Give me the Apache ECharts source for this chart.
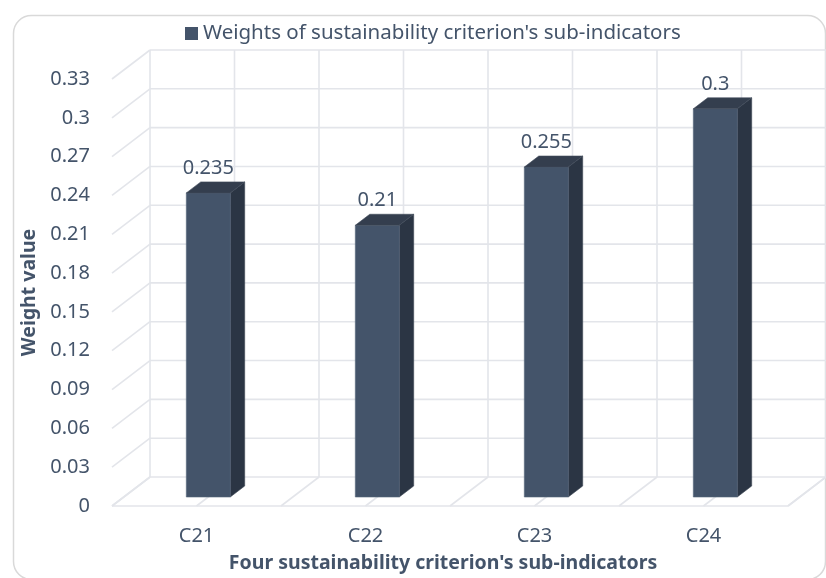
<!DOCTYPE html>
<html>
<head>
<meta charset="utf-8">
<style>
  html, body { margin: 0; padding: 0; background: #ffffff; }
  #chart { width: 826px; height: 578px; }
</style>
<script src="https://cdn.jsdelivr.net/npm/echarts@6/dist/echarts.min.js"></script>
</head>
<body>
<div id="chart"></div>
<script>
// Sub-indicator weights of the sustainability criterion
const categories = ['C21', 'C22', 'C23', 'C24'];
const weights = [0.235, 0.21, 0.255, 0.3];
const yTicks = [0, 0.03, 0.06, 0.09, 0.12, 0.15, 0.18, 0.21, 0.24, 0.27, 0.3, 0.33];

const seriesName = "Weights of sustainability criterion's sub-indicators";
const TEXT = '#44546A';
const GRID_LINE = '#e3e5ea';
const FONT = 'Noto Sans';

// Oblique depth of the 3D box (pixels, front plane -> back wall)
const DX = 38, DY = -29;
// Depth band occupied by the columns (fraction of the box depth)
const D0 = 0.31, D1 = 0.69;
const BAR_FRACTION = 0.26;

const chart = echarts.init(document.getElementById('chart'));

function line(x1, y1, x2, y2) {
  return {
    type: 'line',
    shape: { x1, y1, x2, y2 },
    style: { stroke: GRID_LINE, lineWidth: 1.6 }
  };
}

// Back wall horizontal gridlines + left wall diagonals, one per value tick
function renderWallTick(params, api) {
  const cs = params.coordSys;
  const v = api.value(0);
  const y = api.coord([0, v])[1];
  const children = [
    line(cs.x + DX, y + DY, cs.x + cs.width + DX, y + DY),
    line(cs.x, y, cs.x + DX, y + DY)
  ];
  if (v === 0) {
    // floor front edge and right floor edge
    children.push(line(cs.x, y, cs.x + cs.width, y));
    children.push(line(cs.x + cs.width, y, cs.x + cs.width + DX, y + DY));
  }
  return { type: 'group', children };
}

// Back wall vertical gridlines and floor diagonals at category boundaries and centres
function renderWallCategory(params, api) {
  const i = api.value(0);
  const w = api.size([1, 0])[0];
  const c = api.coord([i, 0]);
  const yTop = api.coord([i, yTicks[yTicks.length - 1]])[1];
  const y0 = c[1];
  const xs = [c[0] - w / 2, c[0]];
  if (i === categories.length - 1) xs.push(c[0] + w / 2);
  const children = [];
  xs.forEach(x => {
    children.push(line(x + DX, y0 + DY, x + DX, yTop + DY));
    children.push(line(x + DX, y0 + DY, x, y0));
  });
  return { type: 'group', children };
}

// 3D column: front face, side face, top face and value label
function renderColumn(params, api) {
  const i = api.value(0);
  const v = api.value(1);
  const base = api.coord([i, 0]);
  const top = api.coord([i, v]);
  const bw = api.size([1, 0])[0] * BAR_FRACTION;
  const fx = base[0] + DX * D0 - bw / 2;
  const fyTop = top[1] + DY * D0;
  const fyBot = base[1] + DY * D0;
  const ddx = DX * (D1 - D0), ddy = DY * (D1 - D0);
  return {
    type: 'group',
    children: [
      {
        type: 'polygon',
        shape: { points: [[fx + bw, fyTop], [fx + bw + ddx, fyTop + ddy], [fx + bw + ddx, fyBot + ddy], [fx + bw, fyBot]] },
        style: { fill: '#2b3544', stroke: '#3a4453', lineWidth: 0.6 }
      },
      {
        type: 'rect',
        shape: { x: fx, y: fyTop, width: bw, height: fyBot - fyTop },
        style: { fill: '#44546A', stroke: '#56647a', lineWidth: 0.6 }
      },
      {
        type: 'polygon',
        shape: { points: [[fx, fyTop], [fx + bw, fyTop], [fx + bw + ddx, fyTop + ddy], [fx + ddx, fyTop + ddy]] },
        style: { fill: '#343e4e', stroke: '#3f4959', lineWidth: 0.6 }
      },
      {
        type: 'text',
        style: {
          text: String(v),
          x: fx + bw / 2,
          y: fyTop - 25,
          align: 'center',
          verticalAlign: 'middle',
          fill: TEXT,
          font: '20px "' + FONT + '"'
        }
      }
    ]
  };
}

const option = {
  animation: false,
  textStyle: { fontFamily: FONT },
  graphic: [{
    type: 'rect',
    left: 11, top: 13,
    shape: { width: 812, height: 564, r: 18 },
    style: { fill: 'none', stroke: '#d9d9d9', lineWidth: 1.5 },
    z: -10
  }],
  legend: {
    data: [seriesName],
    left: 180,
    top: 18,
    icon: 'rect',
    itemWidth: 13,
    itemHeight: 13,
    itemGap: 6,
    textStyle: { color: TEXT, fontSize: 20.5, fontFamily: FONT }
  },
  grid: { left: 112, right: 38, top: 79, bottom: 67 },
  xAxis: {
    type: 'category',
    data: categories,
    axisLine: { show: false },
    axisTick: { show: false },
    axisLabel: { color: TEXT, fontSize: 20, margin: 20, fontFamily: FONT },
    name: "Four sustainability criterion's sub-indicators",
    nameLocation: 'middle',
    nameGap: 47,
    nameTextStyle: {
      color: TEXT, fontSize: 19.5, fontWeight: 'bold', fontFamily: FONT,
      padding: [0, 14, 0, 0]
    }
  },
  yAxis: {
    type: 'value',
    min: yTicks[0],
    max: yTicks[yTicks.length - 1],
    interval: 0.03,
    axisLine: { show: false },
    axisTick: { show: false },
    splitLine: { show: false },
    axisLabel: {
      color: TEXT, fontSize: 20, margin: 22, fontFamily: FONT,
      formatter: v => String(Number(v.toFixed(2)))
    },
    name: 'Weight value',
    nameLocation: 'middle',
    nameGap: 68,
    nameTextStyle: { color: TEXT, fontSize: 19.5, fontWeight: 'bold', fontFamily: FONT }
  },
  series: [
    {
      name: 'wallTicks',
      type: 'custom',
      silent: true,
      z: 1,
      renderItem: renderWallTick,
      encode: { y: 0 },
      data: yTicks.map(v => [v])
    },
    {
      name: 'wallCategories',
      type: 'custom',
      silent: true,
      z: 1,
      renderItem: renderWallCategory,
      encode: { x: 0 },
      data: categories.map((c, i) => [i])
    },
    {
      name: seriesName,
      type: 'custom',
      z: 5,
      itemStyle: { color: '#44546A' },
      renderItem: renderColumn,
      encode: { x: 0, y: 1 },
      data: weights.map((w, i) => [i, w])
    }
  ]
};

chart.setOption(option);
</script>
</body>
</html>
